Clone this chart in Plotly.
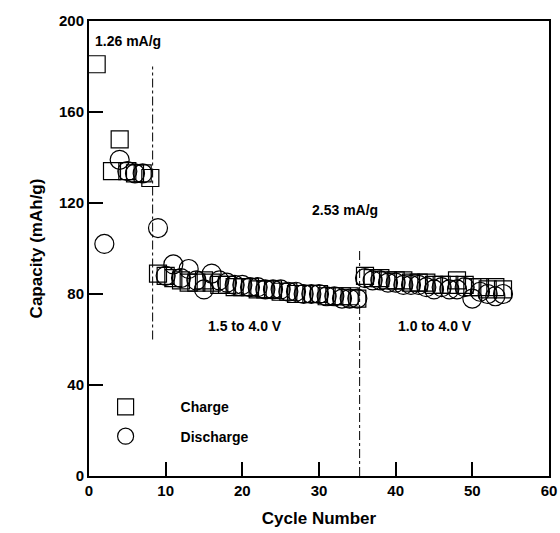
import plotly.graph_objects as go

# ---- data ----
charge_cycles = [1, 3, 4, 5, 6, 7, 8,
                 9, 10, 11, 12, 13, 14, 15, 16, 17, 18, 19, 20, 21, 22, 23, 24, 25, 26, 27, 28, 29, 30, 31, 32, 33, 34, 35,
                 36, 37, 38, 39, 40, 41, 42, 43, 44, 45, 46, 47, 48, 49, 50, 51, 52, 53, 54]
charge_values = [181, 134, 148, 134, 133, 133, 131,
                 89, 88, 87, 86, 85, 85, 86, 85, 84, 84, 83, 83, 83, 82, 82, 82, 81, 81, 80, 80, 80, 80, 79, 79, 79, 79, 78,
                 88, 87, 87, 86, 86, 86, 85, 85, 85, 84, 84, 84, 86, 84, 83, 83, 82, 83, 82]

discharge_cycles = [2, 4, 5, 6, 7, 9,
                    10, 11, 12, 13, 14, 15, 16, 17, 18, 19, 20, 21, 22, 23, 24, 25, 26, 27, 28, 29, 30, 31, 32, 33, 34, 35,
                    36, 37, 38, 39, 40, 41, 42, 43, 44, 45, 46, 47, 48, 49, 50, 51, 52, 53, 54]
discharge_values = [102, 139, 134, 133, 133, 109,
                    88, 93, 87, 91, 86, 82, 89, 86, 85, 84, 84, 83, 83, 82, 82, 82, 81, 81, 80, 80, 80, 79, 79, 78, 78, 78,
                    87, 86, 86, 85, 85, 84, 84, 84, 83, 82, 83, 82, 82, 83, 78, 81, 80, 79, 80]

divider_x = [8.3, 35.3]
divider_y_bottom = [60, 0]
divider_y_top = [180, 99]

x_ticks = [0, 10, 20, 30, 40, 50, 60]
y_ticks = [0, 40, 80, 120, 160, 200]

FONT = "Liberation Sans, Arial, sans-serif"

fig = go.Figure()
fig.add_trace(go.Scatter(
    x=charge_cycles, y=charge_values, mode="markers", name="Charge", legendgroup="c",
    marker=dict(symbol="square-open", size=17, color="black", line=dict(width=1.2, color="black")),
))
fig.add_trace(go.Scatter(
    x=discharge_cycles, y=discharge_values, mode="markers", name="Discharge", legendgroup="d",
    marker=dict(symbol="circle-open", size=19, color="black", line=dict(width=1.2, color="black")),
))

for xv, y0, y1 in zip(divider_x, divider_y_bottom, divider_y_top):
    fig.add_shape(type="line", xref="x", yref="y", x0=xv, x1=xv, y0=y0, y1=y1,
                  line=dict(color="black", width=1, dash="dashdot"))

annots = [
    (0.5, 191, "1.26 mA/g", "left"),
    (33.4, 117, "2.53 mA/g", "center"),
    (20.3, 66, "1.5 to 4.0 V", "center"),
    (45.1, 66, "1.0 to 4.0 V", "center"),
]
for xv, yv, txt, anc in annots:
    fig.add_annotation(x=xv, y=yv, text=txt, showarrow=False, xanchor=anc, yanchor="middle",
                       font=dict(family=FONT, size=14, color="black", weight="bold"))

axis_common = dict(
    showgrid=False, zeroline=False, showline=True, linecolor="black", linewidth=2,
    mirror=True, ticks="inside", ticklen=14, tickwidth=2, tickcolor="black",
    tickfont=dict(family=FONT, size=15, color="black", weight="bold"),
    automargin=False,
)
fig.update_xaxes(range=[0, 60], tickvals=x_ticks, ticktext=[str(v) for v in x_ticks],
                 title=dict(text="Cycle Number", font=dict(family=FONT, size=17, color="black", weight="bold"),
                            standoff=14),
                 **axis_common)
fig.update_yaxes(range=[0, 200], tickvals=y_ticks, ticktext=[str(v) for v in y_ticks],
                 title=dict(text="Capacity (mAh/g)", font=dict(family=FONT, size=17, color="black", weight="bold"),
                            standoff=12),
                 **axis_common)

fig.update_layout(
    width=560, height=533,
    margin=dict(l=89, r=11, t=21, b=57),
    paper_bgcolor="white", plot_bgcolor="white",
    font=dict(family=FONT, color="black"),
    legend=dict(x=-0.04, y=0.119, xanchor="left", yanchor="middle", bgcolor="rgba(0,0,0,0)",
                font=dict(family=FONT, size=14, color="black", weight="bold"), itemwidth=100, tracegroupgap=8),
    showlegend=True,
)
fig.write_html("out.html", config={"displayModeBar": False})

# remove the default page margin so the figure sits at the window's origin
with open("out.html", "r", encoding="utf-8") as f:
    html = f.read()
html = html.replace("<head>", "<head><style>html,body{margin:0;padding:0;overflow:hidden;}</style>", 1)
with open("out.html", "w", encoding="utf-8") as f:
    f.write(html)
